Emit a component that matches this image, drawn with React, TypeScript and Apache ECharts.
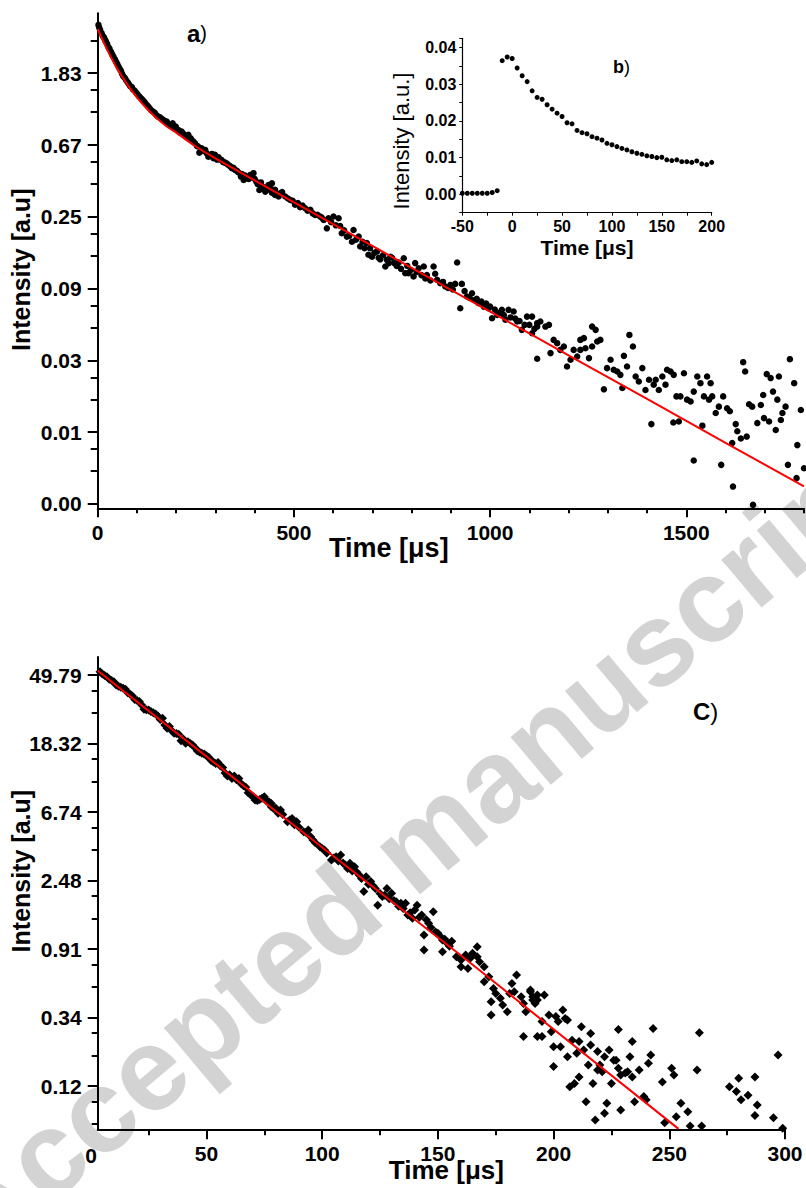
import React, { useEffect, useRef } from "react";
import * as echarts from "echarts";

const FONT = "Liberation Sans";

// ---------------- Panel a (log-intensity decay) ----------------
const yRangeA = [0.00427, 4.22];
const yTicksA = [1.8313, 0.6737, 0.24784, 0.09118, 0.033542, 0.012339, 0.0045394];
const yMinorA = [2.8922, 1.4449, 1.064, 0.5315, 0.3914, 0.19553, 0.14399, 0.07193, 0.05297, 0.02646, 0.01949, 0.009735, 0.007169];
const xTicksA = [0, 500, 1000, 1500];
const xMinorA = [100, 200, 300, 400, 600, 700, 800, 900, 1100, 1200, 1300, 1400, 1600, 1700, 1800];

const pointsA: [number, number][] = [
  [2,3.59],[6,3.35],[10,3.2],[16,3.02],[21,2.85],[27,2.65],[34,2.47],[40,2.31],[47,2.15],[53,2.01],[59,1.9],[65,1.76],[72,1.67],[79,1.58],[87,1.51],[94,1.44],[101,1.37],[108,1.31],[116,1.25],[125,1.18],[133,1.12],[142,1.07],[150,1.02],[159,0.992],[167,0.956],[176,0.934],[185,0.891],[191,0.912],[199,0.871],[206,0.831],[214,0.812],[223,0.765],[231,0.776],[237,0.74],[244,0.707],[253,0.665],[259,0.606],[265,0.644],[274,0.629],[282,0.573],[291,0.595],[299,0.587],[308,0.568],[316,0.547],[325,0.527],[333,0.511],[342,0.487],[350,0.476],[359,0.459],[365,0.434],[372,0.414],[380,0.424],[389,0.444],[397,0.455],[404,0.405],[412,0.36],[420,0.378],[427,0.352],[435,0.386],[444,0.347],[452,0.336],[461,0.329],
  [4,3.45],[13,3.08],[19,2.92],[24,2.76],[30,2.58],[37,2.38],[44,2.22],[50,2.08],[56,1.95],[62,1.82],[69,1.72],[76,1.62],[83,1.53],[90,1.46],[98,1.4],[105,1.33],[112,1.28],[120,1.22],[129,1.15],[137,1.09],[146,1.05],[154,1.0],[163,0.97],[171,0.94],[180,0.9],[195,0.85],[210,0.8],[218,0.79],[227,0.75],[240,0.72],[248,0.69],[256,0.66],[269,0.62],[278,0.6],[287,0.58],[295,0.56],[304,0.55],[312,0.55],[320,0.53],[329,0.52],[338,0.5],[346,0.49],[355,0.47],[368,0.45],[376,0.44],[385,0.42],[393,0.43],[400,0.42],[408,0.39],[416,0.4],[424,0.37],[431,0.36],[440,0.37],[448,0.35],[456,0.34],
  [444,0.395],[452,0.361],[465,0.344],[478,0.329],[491,0.313],[503,0.293],[516,0.283],[529,0.279],[542,0.273],[554,0.254],[567,0.249],[576,0.237],[588,0.243],[601,0.249],[614,0.243],[584,0.211],[618,0.218],[622,0.197],[635,0.188],[652,0.206],[648,0.175],[665,0.188],[669,0.164],[686,0.172],[690,0.146],[699,0.142],[712,0.153],[720,0.137],[733,0.124],[737,0.136],[746,0.142],[756,0.13],[767,0.131],[780,0.139],[784,0.113],[792,0.113],[805,0.108],[809,0.13],[818,0.121],[831,0.124],[839,0.11],[856,0.124],[865,0.103],[873,0.0982],[886,0.0938],[899,0.0959],[911,0.0973],[916,0.131],[928,0.0973],[941,0.0816],[954,0.0854],[960,0.0778],[924,0.0693],[971,0.0743],[984,0.0709],[996,0.0693],[1005,0.0603],[1018,0.0632],[1030,0.0678],[1039,0.059],[1047,0.0678],[1060,0.0662],[1069,0.0576],[1081,0.0513],[1094,0.0617],[1107,0.0489],[1120,0.0537],
  [470,0.35],[485,0.32],[497,0.31],[510,0.3],[522,0.29],[535,0.27],[548,0.26],[560,0.255],[571,0.245],[595,0.23],[607,0.22],[628,0.205],[641,0.19],[658,0.18],[675,0.175],[680,0.16],[694,0.16],[705,0.15],[716,0.14],[727,0.145],[742,0.13],[750,0.14],[762,0.125],[773,0.12],[789,0.125],[798,0.118],[813,0.115],[825,0.11],[835,0.105],[848,0.102],[860,0.112],[880,0.1],[893,0.092],[905,0.09],[935,0.088],[948,0.08],[966,0.079],[978,0.076],[990,0.074],[1000,0.071],[1012,0.068],[1024,0.065],[1035,0.063],[1052,0.061],[1064,0.06],[1075,0.058],[1088,0.055],[1100,0.055],[1113,0.052],
  [1107,0.0617],[1120,0.0563],[1128,0.0576],[1141,0.0537],[1150,0.055],[1120,0.0343],[1154,0.0371],[1162,0.0446],[1171,0.0426],[1179,0.0388],[1188,0.0407],[1196,0.0308],[1205,0.0338],[1213,0.0388],[1222,0.0354],[1230,0.0446],[1239,0.0457],[1230,0.0388],[1243,0.0397],[1252,0.0346],[1260,0.0537],[1269,0.0513],[1260,0.0407],[1273,0.0436],[1281,0.0446],[1290,0.0224],[1298,0.0301],[1307,0.0338],[1315,0.0294],[1324,0.0287],[1332,0.0274],[1337,0.0228],[1341,0.0357],[1349,0.0308],[1355,0.0478],[1364,0.0407],[1371,0.0268],[1379,0.025],[1388,0.0301],[1396,0.0222],[1405,0.0256],[1411,0.0138],[1417,0.0239],[1422,0.0256],[1430,0.0222],[1439,0.0268],[1447,0.0239],[1451,0.0294],[1460,0.0287],[1468,0.0274],[1475,0.0203],[1467,0.0141],[1481,0.0143],[1485,0.0203],[1494,0.028],[1502,0.0194],[1511,0.0189],[1519,0.0217],[1519,0.00831],[1528,0.0268],[1536,0.0244],[1541,0.0135],[1545,0.0203],[1553,0.0268],[1558,0.0194],[1562,0.0244],[1566,0.0203],[1575,0.0161],[1583,0.0176],[1589,0.00782],[1594,0.0203],[1604,0.0172],[1611,0.0165],[1619,0.00578],[1617,0.0106],[1626,0.0138],[1630,0.0125],[1639,0.0113],[1645,0.0327],[1650,0.0287],[1654,0.0116],[1660,0.0182],[1668,0.0176],[1670,0.00448],[1681,0.014],[1690,0.018],[1696,0.0207],[1698,0.015],[1705,0.0277],[1711,0.0143],[1715,0.0262],[1721,0.0217],[1728,0.0127],[1732,0.0194],[1736,0.0268],[1741,0.0146],[1745,0.0161],[1753,0.0176],[1759,0.00782],[1764,0.0341],[1775,0.0244],[1781,0.0065],[1783,0.0103],[1792,0.0168],[1800,0.00746]
];

const fitA: [number, number][] = [
  [0,3.39],[10,2.99],[20,2.66],[30,2.38],[45,2.04],[60,1.78],[80,1.51],[100,1.31],[125,1.12],[150,0.98],[175,0.875],[200,0.8],[250,0.66],[300,0.56],[350,0.48],[400,0.411],[500,0.303],[600,0.224],[800,0.1216],[1000,0.0661],[1200,0.036],[1400,0.0196],[1600,0.01064],[1800,0.00579]
];

// ---------------- Panel b (inset, linear) ----------------
const pointsB: [number, number][] = [
  [-50,0.0003],[-45,0.0003],[-40,0.0003],[-35,0.0003],[-30,0.0003],[-25,0.0003],[-20,0.0005],[-15,0.001],
  [-10,0.0364],[-5,0.0374],[0,0.037],[5,0.0344],[10,0.0323],[15,0.0307],[20,0.0282],[25,0.0264],[30,0.0259],[35,0.0244],[40,0.0232],[45,0.0221],[50,0.0212],[55,0.0195],[60,0.0192],[65,0.0174],[70,0.0168],[75,0.0165],[80,0.0157],[85,0.0153],[90,0.0148],[95,0.0139],[100,0.0135],[105,0.013],[110,0.0125],[115,0.0121],[120,0.0116],[125,0.0112],[130,0.0109],[135,0.0105],[140,0.0103],[145,0.01],[150,0.0101],[155,0.0094],[160,0.0092],[165,0.0094],[170,0.0089],[175,0.0089],[180,0.0087],[185,0.0091],[190,0.0083],[195,0.0081],[200,0.0087]
];

// ---------------- Panel c (log-intensity decay) ----------------
const yRangeC = [0.0656, 64.8];
const yTicksC = [49.79, 18.317, 6.7385, 2.479, 0.912, 0.3355, 0.12343];
const yMinorC = [39.6, 28.67, 14.57, 10.547, 5.359, 3.88, 1.9716, 1.4274, 0.7253, 0.5251, 0.2668, 0.19318, 0.09816, 0.07107];
const xTicksC = [50, 100, 150, 200, 250, 300];
const xMinorC = [25, 75, 125, 175, 225, 275];

const pointsC: [number, number][] = [
  [4,52.3],[5,50.6],[7,48.6],[8,46.8],[10,45.2],[11,43.0],[13,41.6],[15,40.4],[16,38.5],[18,36.7],[19,34.9],[21,33.8],[22,32.1],[23,30.2],[25,29.9],[26,29.2],[28,28.2],[29,27.4],[31,26.5],[32,24.0],[33,22.9],[35,22.1],[36,21.3],[38,21.0],[39,19.1],[41,18.4],[42,18.8],[44,17.9],[45,17.3],[46,16.5],[48,15.9],[49,15.7],[51,15.0],[52,14.3],[54,13.7],[55,13.9],[57,12.9],[58,11.9],[59,11.4],[61,11.0],[62,11.4],[64,11.0],[65,10.2],[67,9.66],[68,8.94],[70,8.43],[71,8.03],[72,7.96],[74,8.23],[75,8.43],[77,7.84],[78,7.29],[80,7.01],[81,6.61],
  [6,49.5],[9,46.0],[12,42.3],[14,41.0],[17,37.6],[20,34.3],[24,30.0],[27,28.7],[30,26.0],[34,23.5],[37,21.2],[40,19.6],[43,18.3],[47,16.2],[50,15.3],[53,14.0],[56,13.2],[60,11.6],[63,10.8],[66,9.9],[69,8.7],[73,8.1],[76,7.9],[79,7.1],
  [78,7.64],[80,7.11],[82,6.94],[85,5.85],[87,6.14],[89,5.85],[92,5.06],[94,5.18],[96,4.48],[99,4.06],[101,3.87],[104,3.34],[106,3.51],[108,3.6],[110,3.11],[112,3.19],[114,3.03],[116,2.69],[118,2.11],[119,2.62],[121,2.44],[123,2.21],[124,1.73],[126,1.96],[128,2.21],[130,2.06],[132,1.82],[134,1.78],[136,1.78],[137,1.5],[139,1.43],[140,1.61],[141,1.73],[143,1.5],[144,1.12],[146,1.33],[148,1.57],[149,1.17],[152,1.04],[154,0.991],[156,1.02],[167,0.944],
  [83,6.5],[86,6.0],[88,5.6],[90,5.4],[93,5.0],[95,4.7],[97,4.3],[100,3.95],[102,3.7],[105,3.45],[107,3.3],[109,3.2],[111,2.95],[113,2.85],[115,2.8],[117,2.55],[120,2.35],[122,2.3],[125,2.05],[127,2.0],[129,1.9],[131,1.85],[133,1.7],[135,1.65],[138,1.55],[142,1.45],[145,1.4],[147,1.25],[150,1.15],[151,1.1],[153,1.05],[155,0.95],
  [144,0.899],[152,0.877],[158,0.815],[160,0.776],[162,0.835],[164,0.796],[165,0.856],[167,0.815],[168,0.758],[170,0.705],[160,0.705],[163,0.687],[172,0.609],[170,0.566],[174,0.513],[175,0.477],[173,0.423],[177,0.444],[178,0.403],[180,0.365],[182,0.552],[184,0.624],[181,0.477],[183,0.489],[186,0.455],[187,0.412],[188,0.365],[190,0.489],[191,0.433],[193,0.466],[173,0.348],[187,0.254],[193,0.254],
  [190,0.501],[191,0.455],[193,0.433],[192,0.412],[196,0.466],[195,0.316],[195,0.254],[198,0.348],[199,0.273],[200,0.219],[200,0.164],[201,0.34],[202,0.316],[203,0.219],[204,0.374],[205,0.331],[206,0.323],[206,0.189],[208,0.241],[207,0.122],[209,0.128],[210,0.199],[211,0.141],[212,0.293],[211,0.236],[213,0.209],[214,0.0982],[215,0.168],[216,0.266],[216,0.225],[217,0.128],[218,0.0751],[219,0.204],[219,0.156],[220,0.168],[221,0.152],[222,0.189],[222,0.0828],[223,0.0958],[224,0.209],[225,0.128],[226,0.18],[227,0.18],[228,0.282],[228,0.16],[229,0.0869],[229,0.145],[231,0.149],[232,0.152],[233,0.189],[234,0.236],[234,0.141],[235,0.0982],[237,0.156],[239,0.106],[240,0.101],[241,0.172],[242,0.194],[243,0.286],[247,0.131],[248,0.0722],[251,0.16],[252,0.145],[253,0.0789],[255,0.0958],[258,0.0848],[259,0.0688],[262,0.156],[263,0.269],[264,0.0688],[276,0.122],[279,0.114],[280,0.138],[281,0.101],[284,0.108],[287,0.0801],[287,0.141],[288,0.0935],[295,0.0777],[297,0.194],[299,0.0665]
];

const fitC: [number, number][] = [[3,53.0],[80,6.82],[160,0.83],[254,0.066]];

// ---------------- helpers ----------------
const ln = (v: number) => Math.log(v);
const toLn = (pts: [number, number][]) => pts.map(([t, v]) => [t, ln(v)]);
const black2 = { color: "#000", width: 2 };
const tickLabel = { fontFamily: FONT, fontWeight: "bold" as const, fontSize: 21, color: "#000" };
const nameBold = (size: number, padding: number[]) => ({ fontFamily: FONT, fontWeight: "bold" as const, fontSize: size, color: "#000", padding });
const plain = (v: number) => String(v);

function minorAxis(gridIndex: number, min: number, max: number, values: number[], len: number, pos: string, width = 2) {
  return {
    type: "value", gridIndex, min, max, position: pos,
    axisLine: { show: false, onZero: false },
    axisLabel: { show: false },
    splitLine: { show: false },
    axisTick: { show: true, length: len, lineStyle: { color: "#000", width }, customValues: values },
  };
}

function buildOption() {
  const aMin = ln(yRangeA[0]), aMax = ln(yRangeA[1]);
  const cMin = ln(yRangeC[0]), cMax = ln(yRangeC[1]);
  const cXMin = 3, cXMax = 300;
  return {
    animation: false,
    backgroundColor: "#fff",
    grid: [
      { left: 97.7, top: 13.3, width: 706.3, height: 495, outerBoundsMode: "none", containLabel: false },
      { left: 462.3, top: 38.3, width: 249.4, height: 174.4, outerBoundsMode: "none", containLabel: false },
      { left: 97.7, top: 657, width: 687.3, height: 472.3, outerBoundsMode: "none", containLabel: false },
    ],
    xAxis: [
      {
        type: "value", gridIndex: 0, min: 0, max: 1800, position: "bottom",
        axisLine: { show: true, onZero: false, lineStyle: black2 },
        axisTick: { show: true, length: 9, lineStyle: black2, customValues: xTicksA },
        axisLabel: { ...tickLabel, margin: 14, customValues: xTicksA, formatter: plain },
        splitLine: { show: false },
        name: "Time [μs]", nameLocation: "middle", nameGap: 26, nameMoveOverlap: false,
        nameTextStyle: nameBold(27, [0, 124, 0, 0]),
      },
      minorAxis(0, 0, 1800, xMinorA, 5, "bottom"),
      {
        type: "value", gridIndex: 1, min: -50, max: 200, interval: 25, position: "bottom",
        axisLine: { show: true, onZero: false, lineStyle: { color: "#000", width: 1.2 } },
        axisTick: { show: true, length: 3, lineStyle: { color: "#000", width: 1 } },
        axisLabel: {
          fontFamily: FONT, fontWeight: "bold", fontSize: 16, lineHeight: 16, color: "#000", margin: 6,
          formatter: (v: number) => (Math.abs(v % 50) < 1e-6 ? String(v) : ""),
        },
        splitLine: { show: false },
        name: "Time [μs]", nameLocation: "middle", nameGap: 24.5, nameMoveOverlap: false,
        nameTextStyle: { ...nameBold(21, [0, 0, 0, 0]), lineHeight: 21 },
      },
      {
        type: "value", gridIndex: 2, min: cXMin, max: cXMax, position: "bottom",
        axisLine: { show: true, onZero: false, lineStyle: black2 },
        axisTick: { show: true, length: 10, lineStyle: black2, customValues: xTicksC },
        axisLabel: { ...tickLabel, margin: 14, customValues: xTicksC, formatter: plain },
        splitLine: { show: false },
        name: "Time [μs]", nameLocation: "middle", nameGap: 28, nameMoveOverlap: false,
        nameTextStyle: nameBold(26, [0, 0, 0, 10]),
      },
      minorAxis(2, cXMin, cXMax, xMinorC, 6, "bottom"),
    ],
    yAxis: [
      {
        type: "value", gridIndex: 0, min: aMin, max: aMax, position: "left",
        axisLine: { show: true, onZero: false, lineStyle: black2 },
        axisTick: { show: true, length: 10, lineStyle: black2, customValues: yTicksA.map(ln) },
        axisLabel: { ...tickLabel, margin: 16, customValues: yTicksA.map(ln), formatter: (v: number) => Math.exp(v).toFixed(2) },
        splitLine: { show: false },
        name: "Intensity [a.u]", nameLocation: "middle", nameGap: 64, nameMoveOverlap: false,
        nameTextStyle: nameBold(25, [0, 18, 0, 0]),
      },
      minorAxis(0, aMin, aMax, yMinorA.map(ln), 7, "left"),
      {
        type: "value", gridIndex: 1, min: -0.005, max: 0.0425, interval: 0.005, position: "left",
        axisLine: { show: true, onZero: false, lineStyle: { color: "#000", width: 1.2 } },
        axisTick: { show: true, length: 3, lineStyle: { color: "#000", width: 1 } },
        axisLabel: {
          fontFamily: FONT, fontWeight: "bold", fontSize: 16, color: "#000", margin: 6,
          formatter: (v: number) => (Math.abs(v * 100 - Math.round(v * 100)) < 1e-6 ? Math.abs(v).toFixed(2) : ""),
        },
        splitLine: { show: false },
        name: "Intensity [a.u.]", nameLocation: "middle", nameGap: 50, nameMoveOverlap: false,
        nameTextStyle: { fontFamily: FONT, fontWeight: "normal", fontSize: 22, color: "#000", padding: [0, 31, 0, 0] },
      },
      {
        type: "value", gridIndex: 2, min: cMin, max: cMax, position: "left",
        axisLine: { show: true, onZero: false, lineStyle: black2 },
        axisTick: { show: true, length: 10, lineStyle: black2, customValues: yTicksC.map(ln) },
        axisLabel: { ...tickLabel, margin: 16, customValues: yTicksC.map(ln), formatter: (v: number) => Math.exp(v).toFixed(2) },
        splitLine: { show: false },
        name: "Intensity [a.u]", nameLocation: "middle", nameGap: 64, nameMoveOverlap: false,
        nameTextStyle: nameBold(25, [0, 0, 0, 44]),
      },
      minorAxis(2, cMin, cMax, yMinorC.map(ln), 6, "left"),
    ],
    graphic: [
      {
        type: "text", z: -10, x: 415, y: 845, rotation: (40 * Math.PI) / 180,
        style: { text: "Accepted manuscript", fill: "#d3d3d3", fontFamily: FONT, fontWeight: "bold", fontSize: 118, align: "center", verticalAlign: "middle" },
      },
      {
        type: "text", x: 187, y: 33,
        style: { text: "{b|a}{n|)}", fill: "#000", verticalAlign: "middle", rich: { b: { fontFamily: FONT, fontWeight: "bold", fontSize: 24 }, n: { fontFamily: FONT, fontSize: 20 } } },
      },
      {
        type: "text", x: 613, y: 67,
        style: { text: "{b|b}{n|)}", fill: "#000", verticalAlign: "middle", rich: { b: { fontFamily: FONT, fontWeight: "bold", fontSize: 18 }, n: { fontFamily: FONT, fontSize: 18 } } },
      },
      {
        type: "text", x: 693, y: 711,
        style: { text: "{b|C}{n|)}", fill: "#000", verticalAlign: "middle", rich: { b: { fontFamily: FONT, fontWeight: "bold", fontSize: 24 }, n: { fontFamily: FONT, fontSize: 24 } } },
      },
      {
        type: "text", x: 91, y: 1155,
        style: { text: "0", fill: "#000", fontFamily: FONT, fontWeight: "bold", fontSize: 21, align: "center", verticalAlign: "middle" },
      },
    ],
    series: [
      {
        type: "scatter", xAxisIndex: 0, yAxisIndex: 0, data: toLn(pointsA),
        symbol: "circle", symbolSize: 6.5, itemStyle: { color: "#000", opacity: 1 }, z: 3,
      },
      {
        type: "line", xAxisIndex: 0, yAxisIndex: 0, data: toLn(fitA), showSymbol: false, smooth: 0.2,
        lineStyle: { color: "#ff0000", width: 2 }, z: 4,
      },
      {
        type: "scatter", xAxisIndex: 2, yAxisIndex: 2, data: pointsB,
        symbol: "circle", symbolSize: 5, itemStyle: { color: "#000", opacity: 1 }, z: 3,
      },
      {
        type: "scatter", xAxisIndex: 3, yAxisIndex: 3, data: toLn(pointsC),
        symbol: "diamond", symbolSize: 9, itemStyle: { color: "#000", opacity: 1 }, z: 3,
      },
      {
        type: "line", xAxisIndex: 3, yAxisIndex: 3, data: toLn(fitC), showSymbol: false,
        lineStyle: { color: "#ff0000", width: 2 }, z: 4,
      },
    ],
  };
}

export default function App() {
  const ref = useRef<HTMLDivElement>(null);
  useEffect(() => {
    if (!ref.current) return;
    const chart = echarts.init(ref.current, null, { renderer: "svg" });
    chart.setOption(buildOption() as any);
    return () => chart.dispose();
  }, []);
  return (
    <div
      ref={ref}
      style={{ position: "absolute", left: 0, top: 0, width: 806, height: 1188, background: "#fff" }}
    />
  );
}
